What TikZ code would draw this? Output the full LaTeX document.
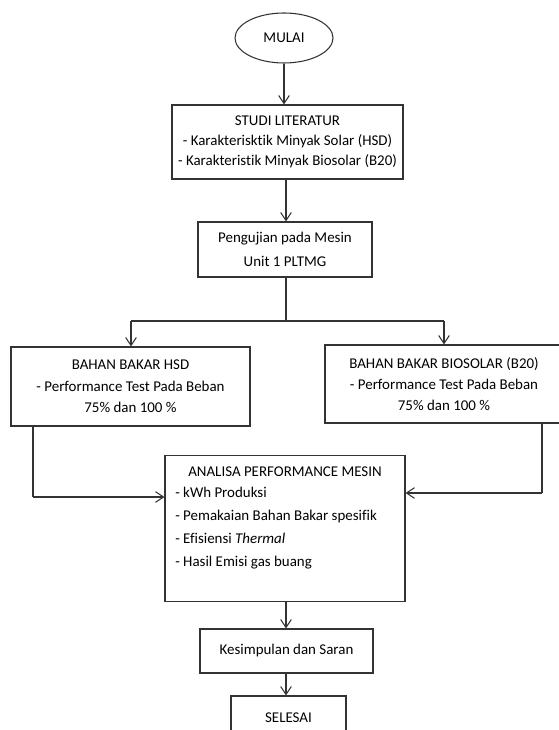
\documentclass[tikz,border=0pt]{standalone}
\usepackage{fontspec}
\setmainfont{Carlito}[Ligatures=NoCommon]
\usetikzlibrary{arrows.meta,shapes.geometric}
\begin{document}
\begin{tikzpicture}[x=0.75pt,y=-0.75pt,
  box/.style={draw=black!80, line width=0.8pt, rectangle, inner sep=0pt, align=center,
    font=\fontsize{11.2}{15}\selectfont},
  txt/.style={inner sep=0pt, font=\fontsize{11.2}{17.3}\selectfont},
  arr/.style={draw=black!80, line width=0.8pt, -{Straight Barb[length=6pt,width=8pt,line width=0.8pt]}},
  ln/.style={draw=black!80, line width=0.8pt}]
\useasboundingbox (0,0) rectangle (559,730);
\clip (0,0) rectangle (559,730);
\fill[white] (0,0) rectangle (559,730);

\node[box, ellipse, minimum width=98*0.75pt, minimum height=50*0.75pt] (mulai) at (284,38) {MULAI};
\node[box, minimum width=231*0.75pt, minimum height=74*0.75pt] (studi) at (287.5,142)
  {STUDI LITERATUR\\- Karakterisktik Minyak Solar (HSD)\\- Karakteristik Minyak Biosolar (B20)};
\node[box, minimum width=174*0.75pt, minimum height=55*0.75pt, font=\fontsize{11.2}{18.5}\selectfont] (peng) at (285,249.5)
  {Pengujian pada Mesin\\Unit 1 PLTMG};
\node[box, minimum width=239*0.75pt, minimum height=79*0.75pt, font=\fontsize{11.2}{16}\selectfont] (hsd) at (130.5,386.5)
  {BAHAN BAKAR HSD\\- Performance Test Pada Beban\\75\% dan 100 \%};
\node[box, minimum width=238*0.75pt, minimum height=78*0.75pt, font=\fontsize{11.2}{16}\selectfont] (bio) at (444,384)
  {BAHAN BAKAR BIOSOLAR (B20)\\- Performance Test Pada Beban\\75\% dan 100 \%};
\node[box, minimum width=240*0.75pt, minimum height=146*0.75pt] (ana) at (285,528.5) {};
\node[txt] (anatitle) at (285,472) {ANALISA PERFORMANCE MESIN};
\node[txt, anchor=north west, align=left] (anaitems) at (175,487)
  {- kWh Produksi\\- Pemakaian Bahan Bakar spesifik\\- Efisiensi \textit{Thermal}\\- Hasil Emisi gas buang};
\node[box, minimum width=173*0.75pt, minimum height=44*0.75pt] (kes) at (286.5,651) {Kesimpulan dan Saran};
\node[box, minimum width=115*0.75pt, minimum height=44*0.75pt] (sel) at (288.5,718) {SELESAI};

\coordinate (split) at (286,321);
\coordinate (hsdtop) at (131,321);
\coordinate (biotop) at (444,321);
\coordinate (hsddown) at (33,497);
\coordinate (biodown) at (542,493);

\draw[arr] (mulai.south) -- (mulai.south |- studi.north);
\draw[arr] (studi.south -| split) -- (split |- peng.north);
\draw[ln] (peng.south -| split) -- (split);
\draw[ln] (hsdtop) -- (biotop);
\draw[arr] (hsdtop) -- (hsdtop |- hsd.north);
\draw[arr] (biotop) -- (biotop |- bio.north);
\draw[ln] (hsddown |- hsd.south) -- (hsddown);
\draw[arr] (hsddown) -- (hsddown -| ana.west);
\draw[ln] (biodown |- bio.south) -- (biodown);
\draw[arr] (biodown) -- (biodown -| ana.east);
\draw[arr] (ana.south -| split) -- (split |- kes.north);
\draw[arr] (kes.south -| split) -- (split |- sel.north);
\end{tikzpicture}
\end{document}
